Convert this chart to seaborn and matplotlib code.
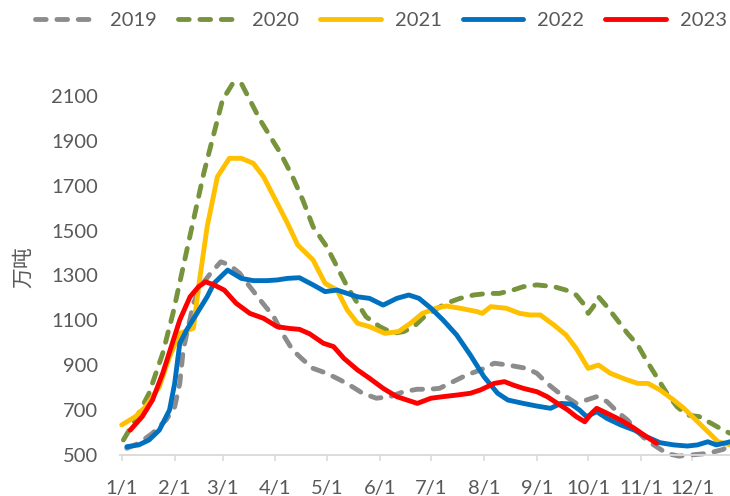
import numpy as np
import pandas as pd
import seaborn as sns
import matplotlib
matplotlib.use("Agg")
import matplotlib.pyplot as plt

# day of year / value (万吨)
days_2019 = [3, 10, 18, 26, 31, 34, 36, 39, 42, 46, 52, 58, 63, 69, 75, 81, 89, 94, 100, 106,
             112, 120, 128, 135, 141, 149, 157, 165, 173, 180, 186, 194, 202, 210, 218, 226,
             237, 243, 249, 255, 260, 266, 272, 278, 284, 290, 296, 301, 307, 313, 319, 326,
             333, 340, 346, 352, 356]
vals_2019 = [530, 552, 597, 656, 715, 819, 968, 1072, 1176, 1250, 1310, 1361, 1347, 1310, 1250,
             1191, 1116, 1042, 968, 925, 886, 864, 834, 804, 775, 753, 760, 782, 793, 793, 797,
             827, 857, 879, 909, 901, 886, 864, 819, 782, 760, 730, 745, 760, 738, 693, 656, 611,
             567, 537, 507, 495, 500, 505, 513, 525, 545]

days_2020 = [1, 9, 16, 24, 30, 36, 42, 48, 54, 59, 65, 70, 75, 81, 87, 93, 100, 106, 112, 120,
             126, 132, 138, 143, 151, 159, 165, 171, 177, 183, 190, 198, 206, 214, 221, 229, 235,
             243, 253, 260, 266, 270, 273, 276, 279, 284, 290, 296, 302, 307, 313, 319, 325, 331,
             338, 345, 352, 356]
vals_2020 = [567, 671, 775, 953, 1131, 1339, 1547, 1755, 1934, 2082, 2156, 2156, 2082, 1993, 1918,
             1844, 1740, 1636, 1517, 1428, 1339, 1250, 1176, 1116, 1072, 1042, 1050, 1072, 1116,
             1146, 1176, 1198, 1213, 1220, 1220, 1235, 1250, 1258, 1250, 1235, 1213, 1176, 1131,
             1161, 1205, 1161, 1102, 1042, 990, 923, 849, 775, 715, 678, 671, 641, 611, 597]

days_2021 = [0, 8, 14, 22, 28, 34, 42, 45, 50, 56, 63, 70, 77, 83, 91, 97, 103, 112, 119, 126,
             132, 138, 145, 154, 162, 169, 176, 184, 190, 198, 208, 211, 216, 225, 233, 239, 245,
             253, 260, 266, 273, 279, 286, 295, 302, 308, 315, 323, 329, 336, 343, 349, 356]
vals_2021 = [634, 671, 715, 804, 938, 1042, 1065, 1250, 1517, 1740, 1822, 1822, 1800, 1740, 1622,
             1533, 1436, 1369, 1265, 1235, 1146, 1087, 1072, 1042, 1050, 1087, 1131, 1154, 1164,
             1154, 1139, 1131, 1161, 1154, 1131, 1124, 1124, 1079, 1035, 975, 886, 901, 864, 837,
             819, 819, 790, 745, 708, 656, 604, 559, 545]

days_2022 = [3, 10, 16, 22, 28, 31, 34, 38, 44, 50, 54, 59, 62, 65, 70, 77, 85, 91, 97, 104,
             112, 119, 126, 132, 138, 145, 153, 161, 168, 174, 181, 188, 196, 204, 212, 220, 226,
             235, 243, 251, 257, 263, 268, 272, 278, 284, 292, 300, 307, 315, 323, 331, 337, 343,
             348, 354, 356]
vals_2022 = [537, 545, 567, 611, 701, 819, 998, 1057, 1131, 1205, 1265, 1302, 1324, 1310, 1287,
             1277, 1277, 1280, 1287, 1290, 1258, 1228, 1235, 1220, 1205, 1198, 1168, 1198, 1213,
             1198, 1154, 1102, 1035, 946, 849, 775, 745, 730, 718, 708, 730, 727, 700, 671, 693,
             663, 634, 611, 582, 555, 545, 540, 545, 559, 545, 555, 559]

days_2023 = [5, 12, 18, 24, 29, 34, 40, 45, 49, 54, 60, 67, 75, 83, 91, 98, 104, 110, 118, 124,
             130, 138, 145, 153, 161, 173, 181, 188, 196, 204, 210, 218, 224, 229, 235, 243, 249,
             255, 261, 266, 271, 275, 278, 284, 292, 300, 307, 313]
vals_2023 = [611, 671, 745, 864, 983, 1102, 1205, 1250, 1272, 1258, 1235, 1176, 1131, 1109, 1072,
             1064, 1060, 1040, 998, 983, 931, 879, 842, 797, 760, 730, 753, 760, 767, 775, 790,
             819, 827, 812, 797, 782, 760, 730, 701, 671, 648, 686, 708, 686, 656, 619, 582, 552]

month_days = [0, 31, 59, 90, 120, 151, 181, 212, 243, 273, 304, 334]
month_labels = ["1/1", "2/1", "3/1", "4/1", "5/1", "6/1", "7/1", "8/1", "9/1", "10/1", "11/1", "12/1"]
y_ticks = [500, 700, 900, 1100, 1300, 1500, 1700, 1900, 2100]

series = [
    ("2019", days_2019, vals_2019, "#8c8c8c", True),
    ("2020", days_2020, vals_2020, "#77933c", True),
    ("2021", days_2021, vals_2021, "#ffc000", False),
    ("2022", days_2022, vals_2022, "#0070c0", False),
    ("2023", days_2023, vals_2023, "#ff0000", False),
]

sns.set_style("white")
plt.rcParams["font.family"] = ["Lato", "Noto Sans CJK SC", "DejaVu Sans"]
txt = "#595959"

fig = plt.figure(figsize=(7.3, 4.96), dpi=100)
ax = fig.add_axes([120 / 730, 1 - 455 / 496, 610 / 730, (455 - 73.5) / 496])

for name, d, v, c, dashed in series:
    df = pd.DataFrame({"day": d, "val": v})
    if dashed:
        sns.lineplot(data=df, x="day", y="val", color=c, lw=3.5, ls=(0, (2.2, 2.2)),
                     dash_capstyle="round", label=name, ax=ax, clip_on=False)
    else:
        sns.lineplot(data=df, x="day", y="val", color=c, lw=3.5, solid_capstyle="round",
                     label=name, ax=ax, clip_on=False)

ax.set_xlim(-1, 356)
ax.set_ylim(500, 2200)
ax.set_xticks(month_days)
ax.set_xticklabels(month_labels)
ax.set_yticks(y_ticks)
ax.set_xlabel("")
ax.set_ylabel("")
for s in ["top", "right", "left"]:
    ax.spines[s].set_visible(False)
ax.spines["bottom"].set_color("#d9d9d9")
ax.spines["bottom"].set_linewidth(1.3)
ax.tick_params(axis="x", direction="out", length=4.5, width=1.1, color="#d9d9d9",
               labelsize=14.5, labelcolor=txt, pad=13.5, bottom=True)
ax.tick_params(axis="y", length=0, labelsize=14.5, labelcolor=txt, pad=16)

fig.text(23 / 730, 1 - 267 / 496, "万吨", rotation=90, ha="center", va="center",
         fontsize=15, color=txt, family=["Noto Sans CJK SC"])

ax.get_legend().remove()
leg = fig.legend(handles=ax.get_lines(), labels=[s[0] for s in series], loc="center",
                 bbox_to_anchor=(0.522, 0.958), ncol=5, frameon=False, fontsize=14.5,
                 handlelength=3.0, handletextpad=0.7, columnspacing=1.05)
for t in leg.get_texts():
    t.set_color(txt)

fig.savefig("out.png", dpi=100)
